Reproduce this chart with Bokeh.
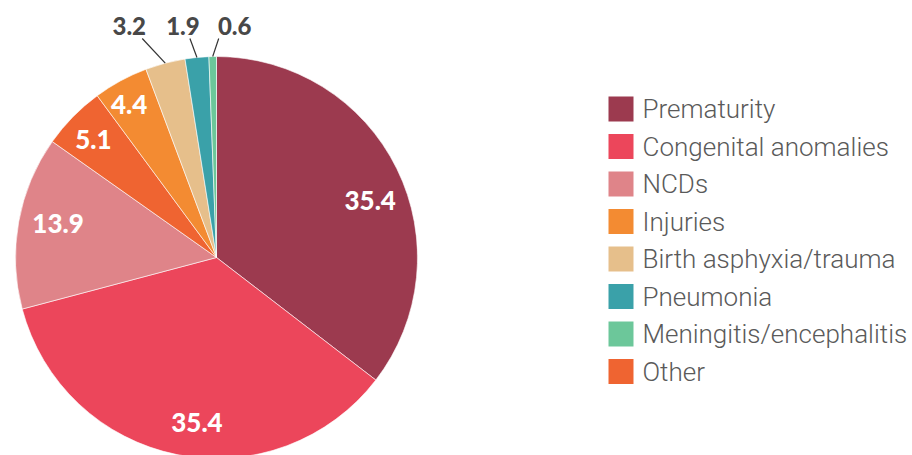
import math
from bokeh.plotting import figure
from bokeh.models import Range1d, ColumnDataSource
from bokeh.core.properties import value
from bokeh.embed import file_html
from bokeh.resources import INLINE

# ---- data ----
categories = ["Prematurity", "Congenital anomalies", "NCDs", "Other",
              "Injuries", "Birth asphyxia/trauma", "Pneumonia", "Meningitis/encephalitis"]
values = [35.4, 35.4, 13.9, 5.1, 4.4, 3.2, 1.9, 0.6]
colors = ["#9C3A4F", "#EC465B", "#DF8489", "#EF6431",
          "#F38B32", "#E6BF8B", "#3AA1A9", "#6CC79A"]
legend_order = ["Prematurity", "Congenital anomalies", "NCDs", "Injuries",
                "Birth asphyxia/trauma", "Pneumonia", "Meningitis/encephalitis", "Other"]
outer_labels = ["Birth asphyxia/trauma", "Pneumonia", "Meningitis/encephalitis"]

# ---- layout ----
W, H = 910, 455
CX, CY, R = 216, 198, 201
# inner label placement: (angle nudge in degrees, clockwise; radius fraction)
INNER_POS = {"Prematurity": (6.0, 0.815), "Congenital anomalies": (-4.6, 0.826),
             "NCDs": (1.8, 0.806), "Other": (-0.7, 0.848), "Injuries": (-1.2, 0.878)}
OUTER_ROW_Y = H - 25
OUTER_DX = {"Birth asphyxia/trauma": -36, "Pneumonia": -14, "Meningitis/encephalitis": 22}
OUTER_TOP_DX = {"Birth asphyxia/trauma": 13, "Pneumonia": 7, "Meningitis/encephalitis": -16}
OUTER_LINE_TOP = H - 38
LEG_X, LEG_Y0, LEG_STEP, SQ = 608, H - 108.5, 37.5, 25

p = figure(width=W, height=H, output_backend="svg", toolbar_location=None,
           x_range=Range1d(0, W), y_range=Range1d(0, H), min_border=0)
p.axis.visible = False
p.grid.visible = False
p.outline_line_color = None

total = sum(values)
starts, ends, mids = [], [], []
cum = 0.0
for v in values:
    a0 = math.pi / 2 - 2 * math.pi * cum / total
    cum += v
    a1 = math.pi / 2 - 2 * math.pi * cum / total
    starts.append(a0); ends.append(a1); mids.append((a0 + a1) / 2)

src = ColumnDataSource(dict(start=starts, end=ends, color=colors, cat=categories))
p.wedge(x=CX, y=CY, radius=R, start_angle="start", end_angle="end", direction="clock",
        fill_color="color", line_color="white", line_width=0.6, source=src)

ix, iy, itxt = [], [], []
ox, oy, otxt, lx0, ly0, lx1, ly1 = [], [], [], [], [], [], []
for c, v, m in zip(categories, values, mids):
    if c in outer_labels:
        ex, ey = CX + R * math.cos(m), CY + R * math.sin(m)
        tx = ex + OUTER_DX[c]
        ox.append(tx); oy.append(OUTER_ROW_Y); otxt.append(f"{v:.1f}")
        lx0.append(ex); ly0.append(ey); lx1.append(tx + OUTER_TOP_DX[c]); ly1.append(OUTER_LINE_TOP)
    else:
        da, rf = INNER_POS[c]
        a = m - math.radians(da)
        ix.append(CX + rf * R * math.cos(a)); iy.append(CY + rf * R * math.sin(a))
        itxt.append(f"{v:.1f}")

p.text(x=ix, y=iy, text=itxt, text_align="center", text_baseline="middle",
       text_color="white", text_font=value("Lato Black"), text_font_style="bold",
       text_font_size="26px")
p.segment(x0=lx0, y0=ly0, x1=lx1, y1=ly1, line_color="#333333", line_width=1.2)
p.text(x=ox, y=oy, text=otxt, text_align="center", text_baseline="middle",
       text_color="#484848", text_font=value("Lato Black"), text_font_style="bold",
       text_font_size="24px")

col_of = dict(zip(categories, colors))
lx = [LEG_X + SQ / 2] * len(legend_order)
ly = [LEG_Y0 - i * LEG_STEP for i in range(len(legend_order))]
p.rect(x=lx, y=ly, width=SQ, height=SQ, fill_color=[col_of[c] for c in legend_order],
       line_color=None)
p.text(x=[LEG_X + SQ + 9] * len(legend_order), y=ly, text=legend_order,
       text_align="left", text_baseline="middle", text_color="#5a5a5a",
       text_font=value("Roboto Light"), text_font_size="26px")

open("out.html", "w").write(file_html(p, INLINE))
